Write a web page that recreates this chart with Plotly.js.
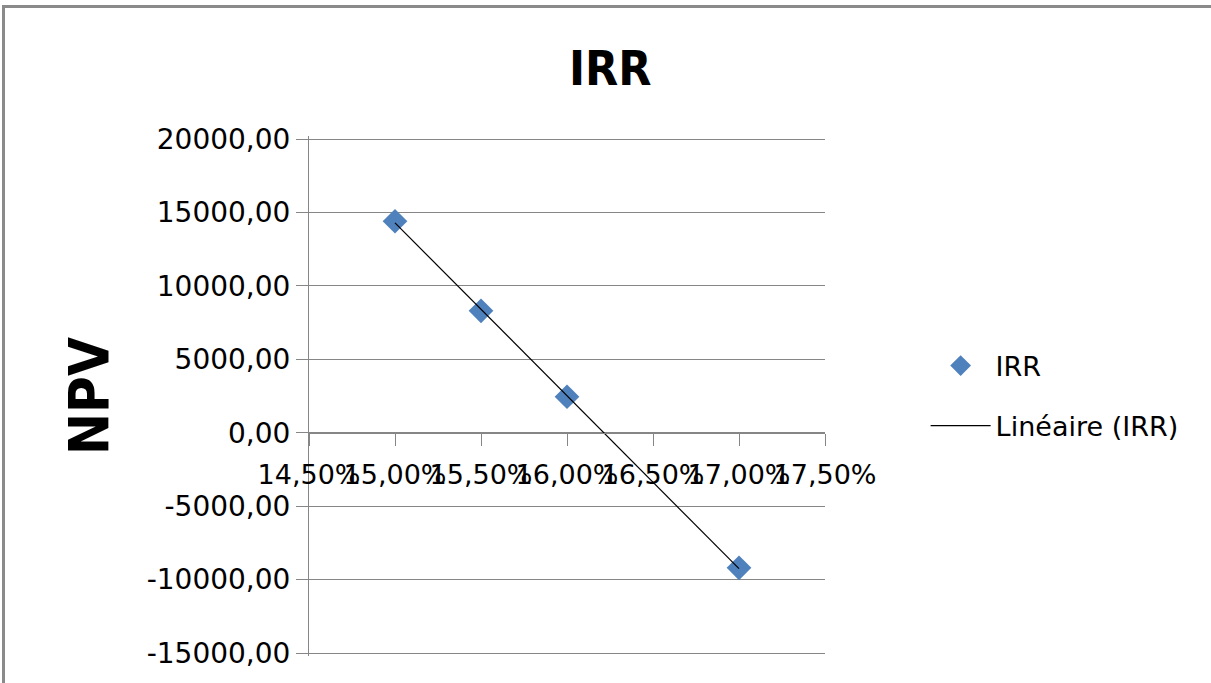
<!DOCTYPE html>
<html>
<head>
<meta charset="utf-8">
<script src="https://cdn.plot.ly/plotly-3.0.1.min.js"></script>
<style>
  html, body { margin: 0; padding: 0; background: #fff; }
  #wrap { position: relative; width: 1211px; height: 683px; overflow: hidden; }
  #frame { position: absolute; left: 2px; top: 5px; width: 1220px; height: 700px;
           border-left: 3px solid #8a8a8a; border-top: 3px solid #8a8a8a; pointer-events: none; z-index: 5; }
  #chart { position: absolute; left: 0; top: 0; width: 1211px; height: 683px; }
</style>
</head>
<body>
<div id="wrap">
  <div id="chart"></div>
  <div id="frame"></div>
</div>
<script>
// ---- data ----
const rates = [0.15, 0.155, 0.16, 0.17];
const npv = [14400, 8300, 2450, -9200];

// ---- axis ticks ----
const xTickVals = [0.145, 0.15, 0.155, 0.16, 0.165, 0.17, 0.175];
const xTickText = ["14,50%", "15,00%", "15,50%", "16,00%", "16,50%", "17,00%", "17,50%"];
const yTickVals = [-15000, -10000, -5000, 0, 5000, 10000, 15000, 20000];
const yTickText = ["-15000,00", "-10000,00", "-5000,00", "0,00", "5000,00", "10000,00", "15000,00", "20000,00"];

// linear trendline (least squares) of the IRR series
const n = rates.length;
const mx = rates.reduce((a, b) => a + b, 0) / n;
const my = npv.reduce((a, b) => a + b, 0) / n;
let sxy = 0, sxx = 0;
for (let i = 0; i < n; i++) { sxy += (rates[i] - mx) * (npv[i] - my); sxx += (rates[i] - mx) ** 2; }
const slope = sxy / sxx, intercept = my - slope * mx;
const trendX = [rates[0], rates[n - 1]];
const trendY = trendX.map(x => intercept + slope * x);

// small padding so the first/last gridlines are drawn inside the plot area
const yPad = 204;
const yMin = -15000 - yPad, yMax = 20000 + yPad;
const grey = '#868686';
const font = 'DejaVu Sans, Verdana, sans-serif';
const boldFont = 'Liberation Sans Narrow, DejaVu Sans Condensed, Liberation Sans, sans-serif';

const traces = [
  {
    x: rates, y: npv, type: 'scatter', mode: 'markers', name: 'IRR',
    legendgroup: 'a',
    marker: { symbol: 'diamond', size: 19, color: '#4F81BD' }
  },
  {
    x: trendX, y: trendY, type: 'scatter', mode: 'lines', name: 'Linéaire (IRR)',
    legendgroup: 'b',
    line: { color: '#000000', width: 1.2 }
  }
];

const layout = {
  width: 1211, height: 683,
  margin: { l: 309, r: 386, t: 136, b: 27 },
  paper_bgcolor: '#ffffff', plot_bgcolor: '#ffffff',
  font: { family: font, size: 27, color: '#000000' },
  showlegend: true,
  title: {
    text: 'IRR', xref: 'container', yref: 'container', x: 0.504, y: 1 - 68 / 683,
    xanchor: 'center', yanchor: 'middle',
    font: { family: boldFont, size: 48, weight: 'bold', color: '#000' }
  },
  xaxis: {
    range: [0.145, 0.175],
    tickmode: 'array', tickvals: xTickVals, ticktext: xTickText, tickangle: 0,
    showgrid: false, zeroline: false,
    showline: true, linecolor: grey, linewidth: 1,
    ticks: 'outside', ticklen: 12, tickcolor: grey, tickwidth: 1,
    anchor: 'free', position: (0 - yMin) / (yMax - yMin),
    ticklabelstandoff: 6,
    tickfont: { family: font, size: 27, color: '#000' }
  },
  yaxis: {
    range: [yMin, yMax],
    tickmode: 'array', tickvals: yTickVals, ticktext: yTickText,
    showgrid: true, gridcolor: grey, gridwidth: 1,
    zeroline: false,
    showline: true, linecolor: grey, linewidth: 1,
    ticks: 'outside', ticklen: 12, tickcolor: grey, tickwidth: 1,
    tickfont: { family: font, size: 28, color: '#000' },
    title: {
      text: 'NPV', standoff: 20,
      font: { family: boldFont, size: 56, weight: 'bold', color: '#000' }
    },
    automargin: false
  },
  legend: {
    x: 1.195, y: 0.5, xanchor: 'left', yanchor: 'middle',
    traceorder: 'grouped', tracegroupgap: 22,
    font: { family: font, size: 27, color: '#000' },
    bgcolor: 'rgba(0,0,0,0)', itemwidth: 60
  }
};

Plotly.newPlot('chart', traces, layout, { displayModeBar: false, staticPlot: true });
</script>
</body>
</html>
